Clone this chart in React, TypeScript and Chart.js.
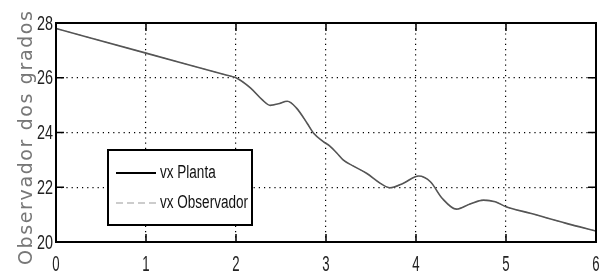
import React, { useEffect, useRef } from "react";
import { Chart, registerables } from "chart.js";

Chart.register(...registerables);

const timeValues = [0, 1, 1.9, 2, 2.16, 2.29, 2.38, 2.47, 2.57, 2.67, 2.79, 2.86, 2.97, 3.04, 3.12, 3.19, 3.3, 3.45, 3.6, 3.71, 3.86, 4.03, 4.16, 4.29, 4.45, 4.6, 4.75, 4.88, 5.0, 5.27, 5.67, 6];
const plantaValues = [27.8, 26.9, 26.09, 26.0, 25.63, 25.2, 24.99, 25.05, 25.14, 24.9, 24.34, 23.98, 23.67, 23.51, 23.25, 23.0, 22.78, 22.51, 22.15, 21.98, 22.15, 22.41, 22.2, 21.6, 21.2, 21.39, 21.53, 21.47, 21.29, 21.05, 20.68, 20.4];
const observadorValues = [27.8, 26.9, 26.09, 26.0, 25.63, 25.2, 24.99, 25.05, 25.14, 24.9, 24.34, 23.98, 23.67, 23.51, 23.25, 23.0, 22.78, 22.51, 22.15, 21.98, 22.15, 22.41, 22.2, 21.6, 21.2, 21.39, 21.53, 21.47, 21.29, 21.05, 20.68, 20.4];
const seriesLabels = ["vx Planta", "vx Observador"];
const yAxisTitle = "Observador dos grados";
const xMin = 0, xMax = 6, xStep = 1;
const yMin = 20, yMax = 28, yStep = 2;

const SANS = '"Liberation Sans", Arial, sans-serif';

function narrowText(ctx: any, text: string, x: number, y: number, size: number, sx: number, align: string, baseline: string) {
  ctx.save();
  ctx.font = `${size}px ${SANS}`;
  ctx.textAlign = align;
  ctx.textBaseline = baseline;
  ctx.translate(x, y);
  ctx.scale(sx, 1);
  ctx.fillText(text, 0, 0);
  ctx.restore();
}

const framePlugin = {
  id: "frameLegend",
  afterDraw(chart: any) {
    const { ctx, chartArea: a, scales } = chart;
    const xs = scales.x, ys = scales.y;
    ctx.save();
    ctx.strokeStyle = "#000";
    ctx.lineWidth = 1.5;
    const tl = 8;
    xs.ticks.forEach((t: any) => {
      const px = xs.getPixelForValue(t.value);
      ctx.beginPath();
      ctx.moveTo(px, a.bottom); ctx.lineTo(px, a.bottom - tl);
      ctx.moveTo(px, a.top); ctx.lineTo(px, a.top + tl);
      ctx.stroke();
    });
    ys.ticks.forEach((t: any) => {
      const py = ys.getPixelForValue(t.value);
      ctx.beginPath();
      ctx.moveTo(a.left, py); ctx.lineTo(a.left + tl, py);
      ctx.moveTo(a.right, py); ctx.lineTo(a.right - tl, py);
      ctx.stroke();
    });
    ctx.lineWidth = 2;
    ctx.strokeRect(a.left, a.top, a.right - a.left, a.bottom - a.top);

    ctx.fillStyle = "#222";
    xs.ticks.forEach((t: any) => {
      const px = xs.getPixelForValue(t.value);
      narrowText(ctx, String(t.value), px, a.bottom + 12, 22, 0.6, "center", "top");
    });
    ys.ticks.forEach((t: any) => {
      const py = ys.getPixelForValue(t.value);
      narrowText(ctx, String(t.value), a.left - 3, py + 1, 20, 0.72, "right", "middle");
    });

    const lx = 108, ly = 150, lw = 144, lh = 75;
    ctx.fillStyle = "#fff";
    ctx.fillRect(lx, ly, lw, lh);
    ctx.lineWidth = 2;
    ctx.strokeStyle = "#000";
    ctx.strokeRect(lx, ly, lw, lh);
    const rows = [ly + 23, ly + 53];
    ctx.font = `18px ${SANS}`;
    const longest = Math.max(...chart.data.datasets.map((d: any) => ctx.measureText(d.label).width));
    const sx = Math.min(1, 88 / longest);
    chart.data.datasets.forEach((ds: any, i: number) => {
      const yy = rows[i];
      ctx.beginPath();
      ctx.setLineDash(i === 0 ? [] : [7, 4]);
      ctx.strokeStyle = i === 0 ? "#000" : "#999";
      ctx.lineWidth = i === 0 ? 2 : 1;
      ctx.moveTo(lx + 8, yy); ctx.lineTo(lx + 48, yy);
      ctx.stroke();
      ctx.setLineDash([]);
      ctx.fillStyle = "#111";
      narrowText(ctx, ds.label, lx + 52, yy, 18, sx, "left", "middle");
    });

    ctx.save();
    ctx.translate(27, 138);
    ctx.rotate(-Math.PI / 2);
    ctx.font = '19px "DejaVu Sans", sans-serif';
    ctx.fillStyle = "#777";
    const natural = ctx.measureText(yAxisTitle).width;
    const target = 254;
    const sp = Math.max(0, (target - natural) / (yAxisTitle.length - 1));
    (ctx as any).letterSpacing = `${sp}px`;
    ctx.textAlign = "center";
    ctx.textBaseline = "middle";
    ctx.fillText(yAxisTitle, sp / 2, 0);
    ctx.restore();
    ctx.restore();
  },
};

export default function App() {
  const ref = useRef<HTMLCanvasElement | null>(null);
  useEffect(() => {
    document.body.style.margin = "0";
    if (!ref.current) return;
    const chart = new Chart(ref.current, {
      type: "line",
      data: {
        datasets: [
          {
            label: seriesLabels[0],
            data: timeValues.map((t, i) => ({ x: t, y: plantaValues[i] })),
            borderColor: "#555",
            borderWidth: 1.6,
            pointRadius: 0,
            cubicInterpolationMode: "monotone",
          },
          {
            label: seriesLabels[1],
            data: timeValues.map((t, i) => ({ x: t, y: observadorValues[i] })),
            borderColor: "#999",
            borderWidth: 1,
            borderDash: [6, 4],
            pointRadius: 0,
            cubicInterpolationMode: "monotone",
          },
        ],
      },
      options: {
        animation: false,
        responsive: false,
        layout: { padding: { top: 23, right: 6, left: 0, bottom: 0 } },
        plugins: { legend: { display: false }, tooltip: { enabled: false } },
        scales: {
          x: {
            type: "linear",
            min: xMin,
            max: xMax,
            afterFit: (s: any) => { s.height = 29; },
            ticks: { stepSize: xStep, display: false },
            grid: { color: "#000", lineWidth: 1.2, drawTicks: false },
            border: { display: false, dash: [1.2, 4] },
          },
          y: {
            min: yMin,
            max: yMax,
            afterFit: (s: any) => { s.width = 56; },
            ticks: { stepSize: yStep, display: false },
            grid: { color: "#000", lineWidth: 1.2, drawTicks: false },
            border: { display: false, dash: [1.2, 4] },
          },
        },
      },
      plugins: [framePlugin],
    } as any);
    return () => chart.destroy();
  }, []);
  return <canvas ref={ref} width={602} height={271} style={{ display: "block" }} />;
}
